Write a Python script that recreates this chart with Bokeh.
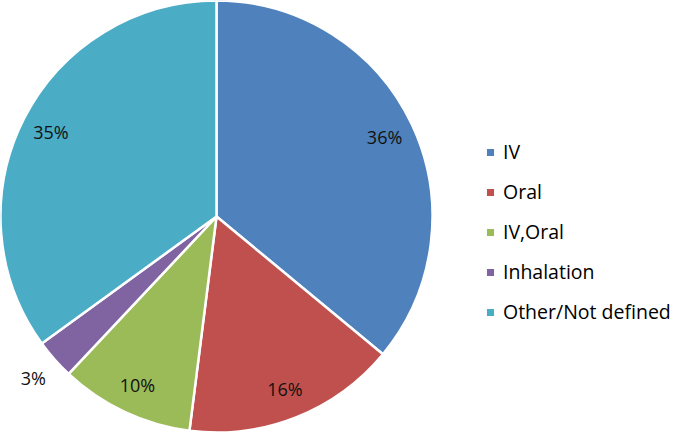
import math
from bokeh.plotting import figure
from bokeh.models import Legend, LegendItem, ColumnDataSource, Range1d
from bokeh.core.properties import value
from bokeh.embed import file_html
from bokeh.resources import INLINE

categories = ["IV", "Oral", "IV,Oral", "Inhalation", "Other/Not defined"]
shares = [36, 16, 10, 3, 35]
colors = ["#4F81BD", "#C0504D", "#9BBB59", "#8064A2", "#4BACC6"]

R = 216
total = sum(shares)
starts, ends, lx, ly, labels = [], [], [], [], []
cum = 0
for s in shares:
    a0 = math.pi / 2 - 2 * math.pi * cum / total
    a1 = math.pi / 2 - 2 * math.pi * (cum + s) / total
    starts.append(a0)
    ends.append(a1)
    mid = (a0 + a1) / 2
    rf = 0.86 if s >= 5 else 1.13
    lx.append(R * rf * math.cos(mid))
    ly.append(R * rf * math.sin(mid))
    labels.append(f"{s}%")
    cum += s

src = ColumnDataSource(dict(cat=categories, start=starts, end=ends, color=colors,
                            lx=lx, ly=ly, label=labels))

W, H = 675, 432
p = figure(width=W, height=H, output_backend="svg", toolbar_location=None,
           x_range=Range1d(-R, W - R), y_range=Range1d(-H / 2, H / 2),
           min_border=0, outline_line_color=None)
p.axis.visible = False
p.grid.visible = False

wr = p.wedge(x=0, y=0, radius=R, start_angle="start", end_angle="end",
             direction="clock", fill_color="color", line_color="white",
             line_width=2.5, source=src)

p.text(x="lx", y="ly", text="label", source=src, text_align="center",
       text_baseline="middle", text_font=value("Open Sans"),
       text_font_size="18px", text_color="#111111")

items = [LegendItem(label=c, renderers=[wr], index=i) for i, c in enumerate(categories)]
legend = Legend(items=items, location=(484, 107), glyph_width=12, glyph_height=12,
                label_standoff=7, spacing=13, label_height=20, padding=0, margin=0,
                border_line_alpha=0, background_fill_alpha=0)
legend.label_text_font = "Open Sans"
legend.label_text_font_size = "19.5px"
legend.label_text_color = "#000000"
p.add_layout(legend, "center")

open("out.html", "w").write(file_html(p, INLINE))
